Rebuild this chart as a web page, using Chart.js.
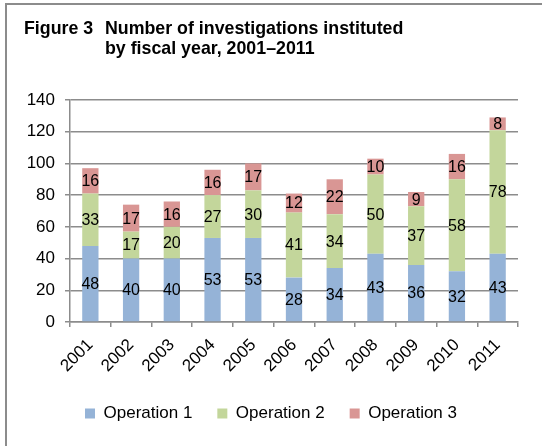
<!DOCTYPE html>
<html>
<head>
<meta charset="utf-8">
<script src="https://cdn.jsdelivr.net/npm/chart.js@4"></script>
<style>
  body { margin: 0; background: #fff; }
  #wrap { position: relative; width: 542px; height: 446px; overflow: hidden; }
  #frame { position: absolute; left: 5px; top: 3px; width: 560px; height: 460px;
           border-top: 2px solid #8c8c8c; border-left: 2px solid #8c8c8c; }
  #titulo { position: absolute; left: 24px; top: 18px; display: flex;
            font: bold 17.8px "Liberation Sans", Arial, sans-serif; line-height: 20px; color: #000; }
  #titulo .num { width: 81px; }
  canvas { position: absolute; left: 0; top: 0; }
</style>
</head>
<body>
<div id="wrap">
  <div id="frame"></div>
  <canvas id="grafica" width="542" height="446"></canvas>
  <div id="titulo"><span class="num">Figure 3</span><span>Number of investigations instituted<br>by fiscal year, 2001–2011</span></div>
</div>
<script>
const anios = ["2001", "2002", "2003", "2004", "2005", "2006", "2007", "2008", "2009", "2010", "2011"];
const operacion1 = [48, 40, 40, 53, 53, 28, 34, 43, 36, 32, 43];
const operacion2 = [33, 17, 20, 27, 30, 41, 34, 50, 37, 58, 78];
const operacion3 = [16, 17, 16, 16, 17, 12, 22, 10, 9, 16, 8];

const fuente = '"Liberation Sans", Arial, sans-serif';
const gris = '#8c8c8c';

// etiquetas dentro de cada segmento
const etiquetas = {
  id: 'etiquetas',
  afterDatasetsDraw(chart) {
    const c = chart.ctx;
    c.save();
    c.font = '16px ' + fuente;
    c.fillStyle = '#000';
    c.textAlign = 'center';
    c.textBaseline = 'middle';
    chart.data.datasets.forEach((ds, i) => {
      chart.getDatasetMeta(i).data.forEach((bar, j) => {
        c.fillText(ds.data[j], bar.x, (bar.y + bar.base) / 2 + 1);
      });
    });
    c.restore();
  }
};

let ctx = document.getElementById('grafica').getContext('2d');
let grafica = new Chart(ctx, {
  type: 'bar',
  data: {
    labels: anios,
    datasets: [
      { label: 'Operation 1', data: operacion1, backgroundColor: '#95b3d7' },
      { label: 'Operation 2', data: operacion2, backgroundColor: '#c3d69b' },
      { label: 'Operation 3', data: operacion3, backgroundColor: '#d99694' }
    ]
  },
  options: {
    responsive: false,
    animation: false,
    layout: { padding: { top: 100, right: 24, left: 24, bottom: 14 } },
    datasets: { bar: { categoryPercentage: 1, barPercentage: 0.4 } },
    scales: {
      x: {
        stacked: true,
        afterFit: s => { s.height = 58; },
        grid: { drawOnChartArea: false, color: gris, lineWidth: 1.5, tickLength: 5, offset: true },
        border: { color: gris, width: 1.5 },
        ticks: { color: '#000', font: { family: fuente, size: 17 }, minRotation: 45, maxRotation: 45, padding: 8 }
      },
      y: {
        stacked: true,
        min: 0, max: 140,
        afterFit: s => { s.width = 46; },
        grid: { color: gris, lineWidth: 1.5, tickLength: 5 },
        border: { color: gris, width: 1.5 },
        ticks: { stepSize: 20, color: '#000', font: { family: fuente, size: 17 }, padding: 10 }
      }
    },
    plugins: {
      legend: {
        position: 'bottom',
        labels: { boxWidth: 10, boxHeight: 10, padding: 25, color: '#000', font: { family: fuente, size: 17 } }
      },
      tooltip: { enabled: false }
    }
  },
  plugins: [etiquetas]
});
</script>
</body>
</html>
